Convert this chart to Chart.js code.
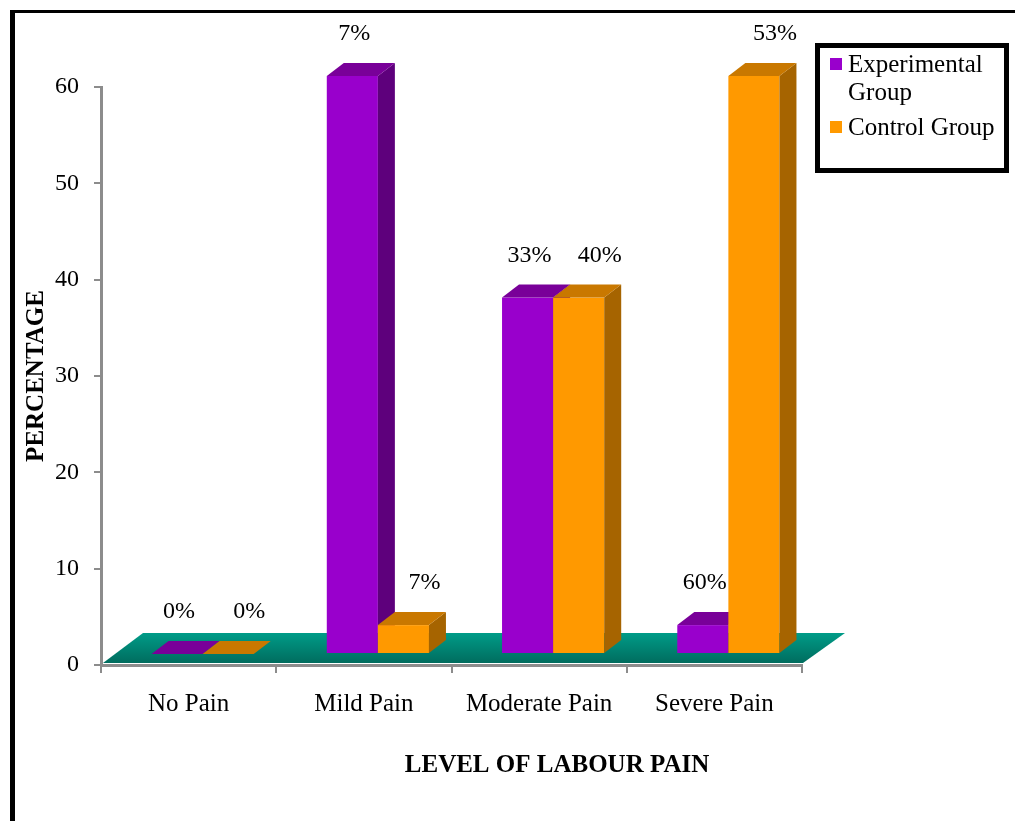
<!DOCTYPE html>
<html lang="en">
<head>
<meta charset="UTF-8">
<title>Level of Labour Pain</title>
<script src="https://cdn.jsdelivr.net/npm/chart.js"></script>
<style>
    html, body { margin: 0; padding: 0; background: #fff; }
    #wrap { width: 1015px; height: 821px; }
</style>
</head>
<body>
<div id="wrap"><canvas id="painChart" width="1015" height="821"></canvas></div>
<script>
    const painLevels = ['No Pain', 'Mild Pain', 'Moderate Pain', 'Severe Pain'];
    const experimentalValues = [0, 60, 37, 3];
    const controlValues = [0, 3, 37, 60];
    const experimentalText = ['0%', '7%', '33%', '60%'];
    const controlText = ['0%', '7%', '40%', '53%'];
    const seriesNames = ['Experimental Group', 'Control Group'];
    const yMax = 60;
    const yStep = 10;

    const SERIF = '"Liberation Serif", "Times New Roman", serif';
    const AXIS_GREY = '#8c8c8c';

    // front / top / side shades for the two series, plus where their captions sit
    const shades = [
        { front: '#9900cc', top: '#790099', side: '#5e007c', captionDx: 2 },
        { front: '#ff9900', top: '#c97800', side: '#a66400', captionDx: 21 }
    ];

    // bars stand a bit back on the floor, and have some depth
    const SHIFT_X = 14, SHIFT_Y = 11;
    const DEPTH_X = 17, DEPTH_Y = 13;

    function poly(ctx, pts, color) {
        ctx.fillStyle = color;
        ctx.beginPath();
        ctx.moveTo(pts[0][0], pts[0][1]);
        for (let k = 1; k < pts.length; k++) ctx.lineTo(pts[k][0], pts[k][1]);
        ctx.closePath();
        ctx.fill();
    }

    const frame = {
        id: 'frame',
        beforeDraw(chart) {
            const ctx = chart.ctx;
            ctx.save();
            ctx.fillStyle = '#fff';
            ctx.fillRect(0, 0, chart.width, chart.height);
            ctx.fillStyle = '#000';
            ctx.fillRect(10, 10, 5, chart.height - 10);
            ctx.fillRect(10, 10, chart.width - 10, 3);
            ctx.restore();
        }
    };

    const bars3d = {
        id: 'bars3d',
        beforeDatasetsDraw(chart) {
            const { ctx, chartArea: a } = chart;
            ctx.save();

            // teal floor
            const g = ctx.createLinearGradient(0, a.bottom - 32, 0, a.bottom - 2);
            g.addColorStop(0, '#009c88');
            g.addColorStop(1, '#006c5e');
            poly(ctx, [
                [a.left + 2, a.bottom - 2],
                [a.left + 42, a.bottom - 32],
                [a.right + 43, a.bottom - 32],
                [a.right + 1, a.bottom - 2]
            ], g);

            // draw category by category so the right bar covers the left one's side
            painLevels.forEach((_, i) => {
                chart.data.datasets.forEach((ds, d) => {
                    const bar = chart.getDatasetMeta(d).data[i];
                    const s = shades[d];
                    const left = bar.x - bar.width / 2 + SHIFT_X;
                    const right = left + bar.width;
                    const top = bar.y - SHIFT_Y;
                    const base = bar.base - SHIFT_Y;
                    if (base - top > 0.5) {
                        ctx.fillStyle = s.front;
                        ctx.fillRect(left, top, bar.width, base - top);
                        poly(ctx, [[right, top], [right + DEPTH_X, top - DEPTH_Y],
                            [right + DEPTH_X, base - DEPTH_Y], [right, base]], s.side);
                    }
                    poly(ctx, [[left, top], [left + DEPTH_X, top - DEPTH_Y],
                        [right + DEPTH_X, top - DEPTH_Y], [right, top]], s.top);
                });
            });

            // percentage captions
            ctx.font = '24px ' + SERIF;
            ctx.fillStyle = '#000';
            ctx.textAlign = 'center';
            ctx.textBaseline = 'middle';
            chart.data.datasets.forEach((ds, d) => {
                chart.getDatasetMeta(d).data.forEach((bar, i) => {
                    const x = bar.x + SHIFT_X + shades[d].captionDx;
                    const y = bar.y - SHIFT_Y - DEPTH_Y - 29;
                    ctx.fillText(ds.captions[i], x, y);
                });
            });

            ctx.restore();
            return false;
        },
        afterDraw(chart) {
            const ctx = chart.ctx;
            ctx.save();

            // x axis title
            ctx.font = 'bold 25px ' + SERIF;
            ctx.fillStyle = '#000';
            ctx.textAlign = 'center';
            ctx.textBaseline = 'middle';
            ctx.fillText('LEVEL OF LABOUR PAIN', 557, 766);

            // legend box
            ctx.lineWidth = 5;
            ctx.strokeStyle = '#000';
            ctx.strokeRect(817.5, 45.5, 189, 125);
            ctx.font = '25px ' + SERIF;
            ctx.textAlign = 'left';
            let y = 65;
            chart.data.datasets.forEach((ds, d) => {
                ctx.fillStyle = shades[d].front;
                ctx.fillRect(830, y - 7, 12, 12);
                ctx.fillStyle = '#000';
                // wrap onto a second line when the name is too long
                const words = ds.label.split(' ');
                let line = '';
                words.forEach(w => {
                    const test = line ? line + ' ' + w : w;
                    if (line && ctx.measureText(test).width > 156) {
                        ctx.fillText(line, 848, y);
                        line = w;
                        y += 28;
                    } else {
                        line = test;
                    }
                });
                ctx.fillText(line, 848, y);
                y += 35;
            });

            ctx.restore();
        }
    };

    new Chart(document.getElementById('painChart'), {
        type: 'bar',
        data: {
            labels: painLevels,
            datasets: [
                { label: seriesNames[0], data: experimentalValues, captions: experimentalText, backgroundColor: shades[0].front },
                { label: seriesNames[1], data: controlValues, captions: controlText, backgroundColor: shades[1].front }
            ]
        },
        options: {
            responsive: false,
            animation: false,
            devicePixelRatio: 1,
            events: [],
            layout: { padding: { left: 10, right: 213, top: 87, bottom: 0 } },
            datasets: { bar: { categoryPercentage: 0.583, barPercentage: 1 } },
            plugins: { legend: { display: false }, tooltip: { enabled: false } },
            scales: {
                x: {
                    afterFit(scale) { scale.height = 156; },
                    grid: { drawOnChartArea: false, offset: true, tickLength: 8, color: AXIS_GREY, lineWidth: 2 },
                    border: { color: AXIS_GREY, width: 3, z: 1 },
                    ticks: { color: '#000', padding: 16, font: { family: SERIF, size: 25 } }
                },
                y: {
                    min: 0,
                    max: yMax,
                    afterFit(scale) { scale.width = 91; },
                    grid: { drawOnChartArea: false, tickLength: 7, color: AXIS_GREY, lineWidth: 2 },
                    border: { color: AXIS_GREY, width: 3 },
                    ticks: { stepSize: yStep, color: '#000', padding: 15, font: { family: SERIF, size: 24 } },
                    title: {
                        display: true,
                        text: 'PERCENTAGE',
                        color: '#000',
                        padding: { top: 12, bottom: 0 },
                        font: { family: SERIF, size: 25, weight: 'bold' }
                    }
                }
            }
        },
        plugins: [frame, bars3d]
    });
</script>
</body>
</html>
